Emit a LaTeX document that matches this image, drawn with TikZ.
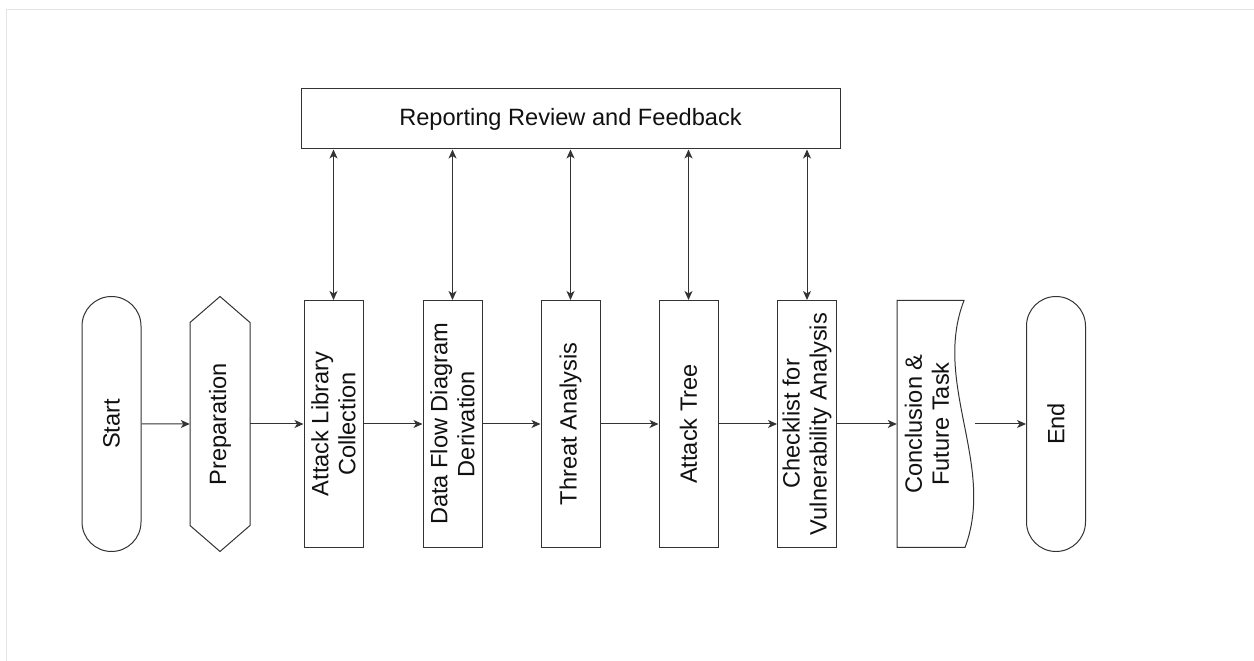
\documentclass[tikz,border=0pt]{standalone}
\usepackage{fontspec}
\setmainfont{Liberation Sans}
\usetikzlibrary{shapes.misc,arrows.meta,calc}
\definecolor{linec}{HTML}{333333}
\definecolor{textc}{HTML}{111111}
\definecolor{framec}{HTML}{E4E4E4}
\begin{document}
\begin{tikzpicture}[x=1pt,y=1pt,
  every node/.style={font=\fontsize{23.6}{27}\selectfont, text=textc},
  outline/.style={draw=linec, line width=1pt},
  stepbox/.style={outline, rectangle, rotate=90, minimum width=247pt, minimum height=59pt, inner sep=0pt, align=center},
  pill/.style={outline, rounded rectangle, rotate=90, minimum width=255pt, minimum height=59pt, inner sep=0pt},
  holder/.style={draw=none, rectangle, rotate=90, inner sep=0pt, align=center},
  tip/.tip={Stealth[length=9pt,width=8pt,inset=2.5pt]},
  conn/.style={draw=linec, line width=1pt, -tip},
  biconn/.style={draw=linec, line width=1pt, tip-tip}]
\useasboundingbox (0,0) rectangle (1254,661);
% faint frame
\draw[framec, line width=1pt] (6,0) -- (6,651) -- (1254,651);

% top box
\node[outline, minimum width=539pt, minimum height=60pt, inner sep=0pt] (rep) at (570.5,542) {Reporting Review and Feedback};

% flow nodes
\node[pill] (start) at (111.5,237) {Start};
\node[holder, minimum width=255pt, minimum height=60pt] (prep) at (220,237) {Preparation};
\draw[outline] ($(prep.center)+(0,127.5)$) -- ($(prep.center)+(-30,101.5)$) -- ($(prep.center)+(-30,-101.5)$)
  -- ($(prep.center)+(0,-127.5)$) -- ($(prep.center)+(30,-101.5)$) -- ($(prep.center)+(30,101.5)$) -- cycle;
\node[stepbox] (alc) at (333.5,237) {Attack Library\\Collection};
\node[stepbox] (dfd) at (452.5,237) {Data Flow Diagram\\Derivation};
\node[stepbox] (ta) at (570.5,237) {Threat Analysis};
\node[stepbox] (at) at (688.5,237) {Attack Tree};
\node[stepbox] (cva) at (807,237) {Checklist for\\Vulnerability Analysis};

\node[holder, minimum width=247pt, minimum height=78pt] (conc) at (936,237) {};
\node[holder] (conctext) at (927,237) {Conclusion \&\\Future Task};
\draw[outline] (897,360.5) -- (964,360.5) .. controls (932,278) and (996,196) .. (965,113.5) -- (897,113.5) -- cycle;

\node[pill] (end) at (1056,237) {End};

% horizontal connectors
\draw[conn] (start) -- (prep);
\draw[conn] (prep) -- (alc);
\draw[conn] (alc) -- (dfd);
\draw[conn] (dfd) -- (ta);
\draw[conn] (ta) -- (at);
\draw[conn] (at) -- (cva);
\draw[conn] (cva) -- (conc);
\draw[conn] (conc) -- (end);

% vertical connectors
\foreach \n in {alc,dfd,ta,at,cva}
  \draw[biconn] (rep.south -| \n.east) -- (\n.east);
\end{tikzpicture}
\end{document}
